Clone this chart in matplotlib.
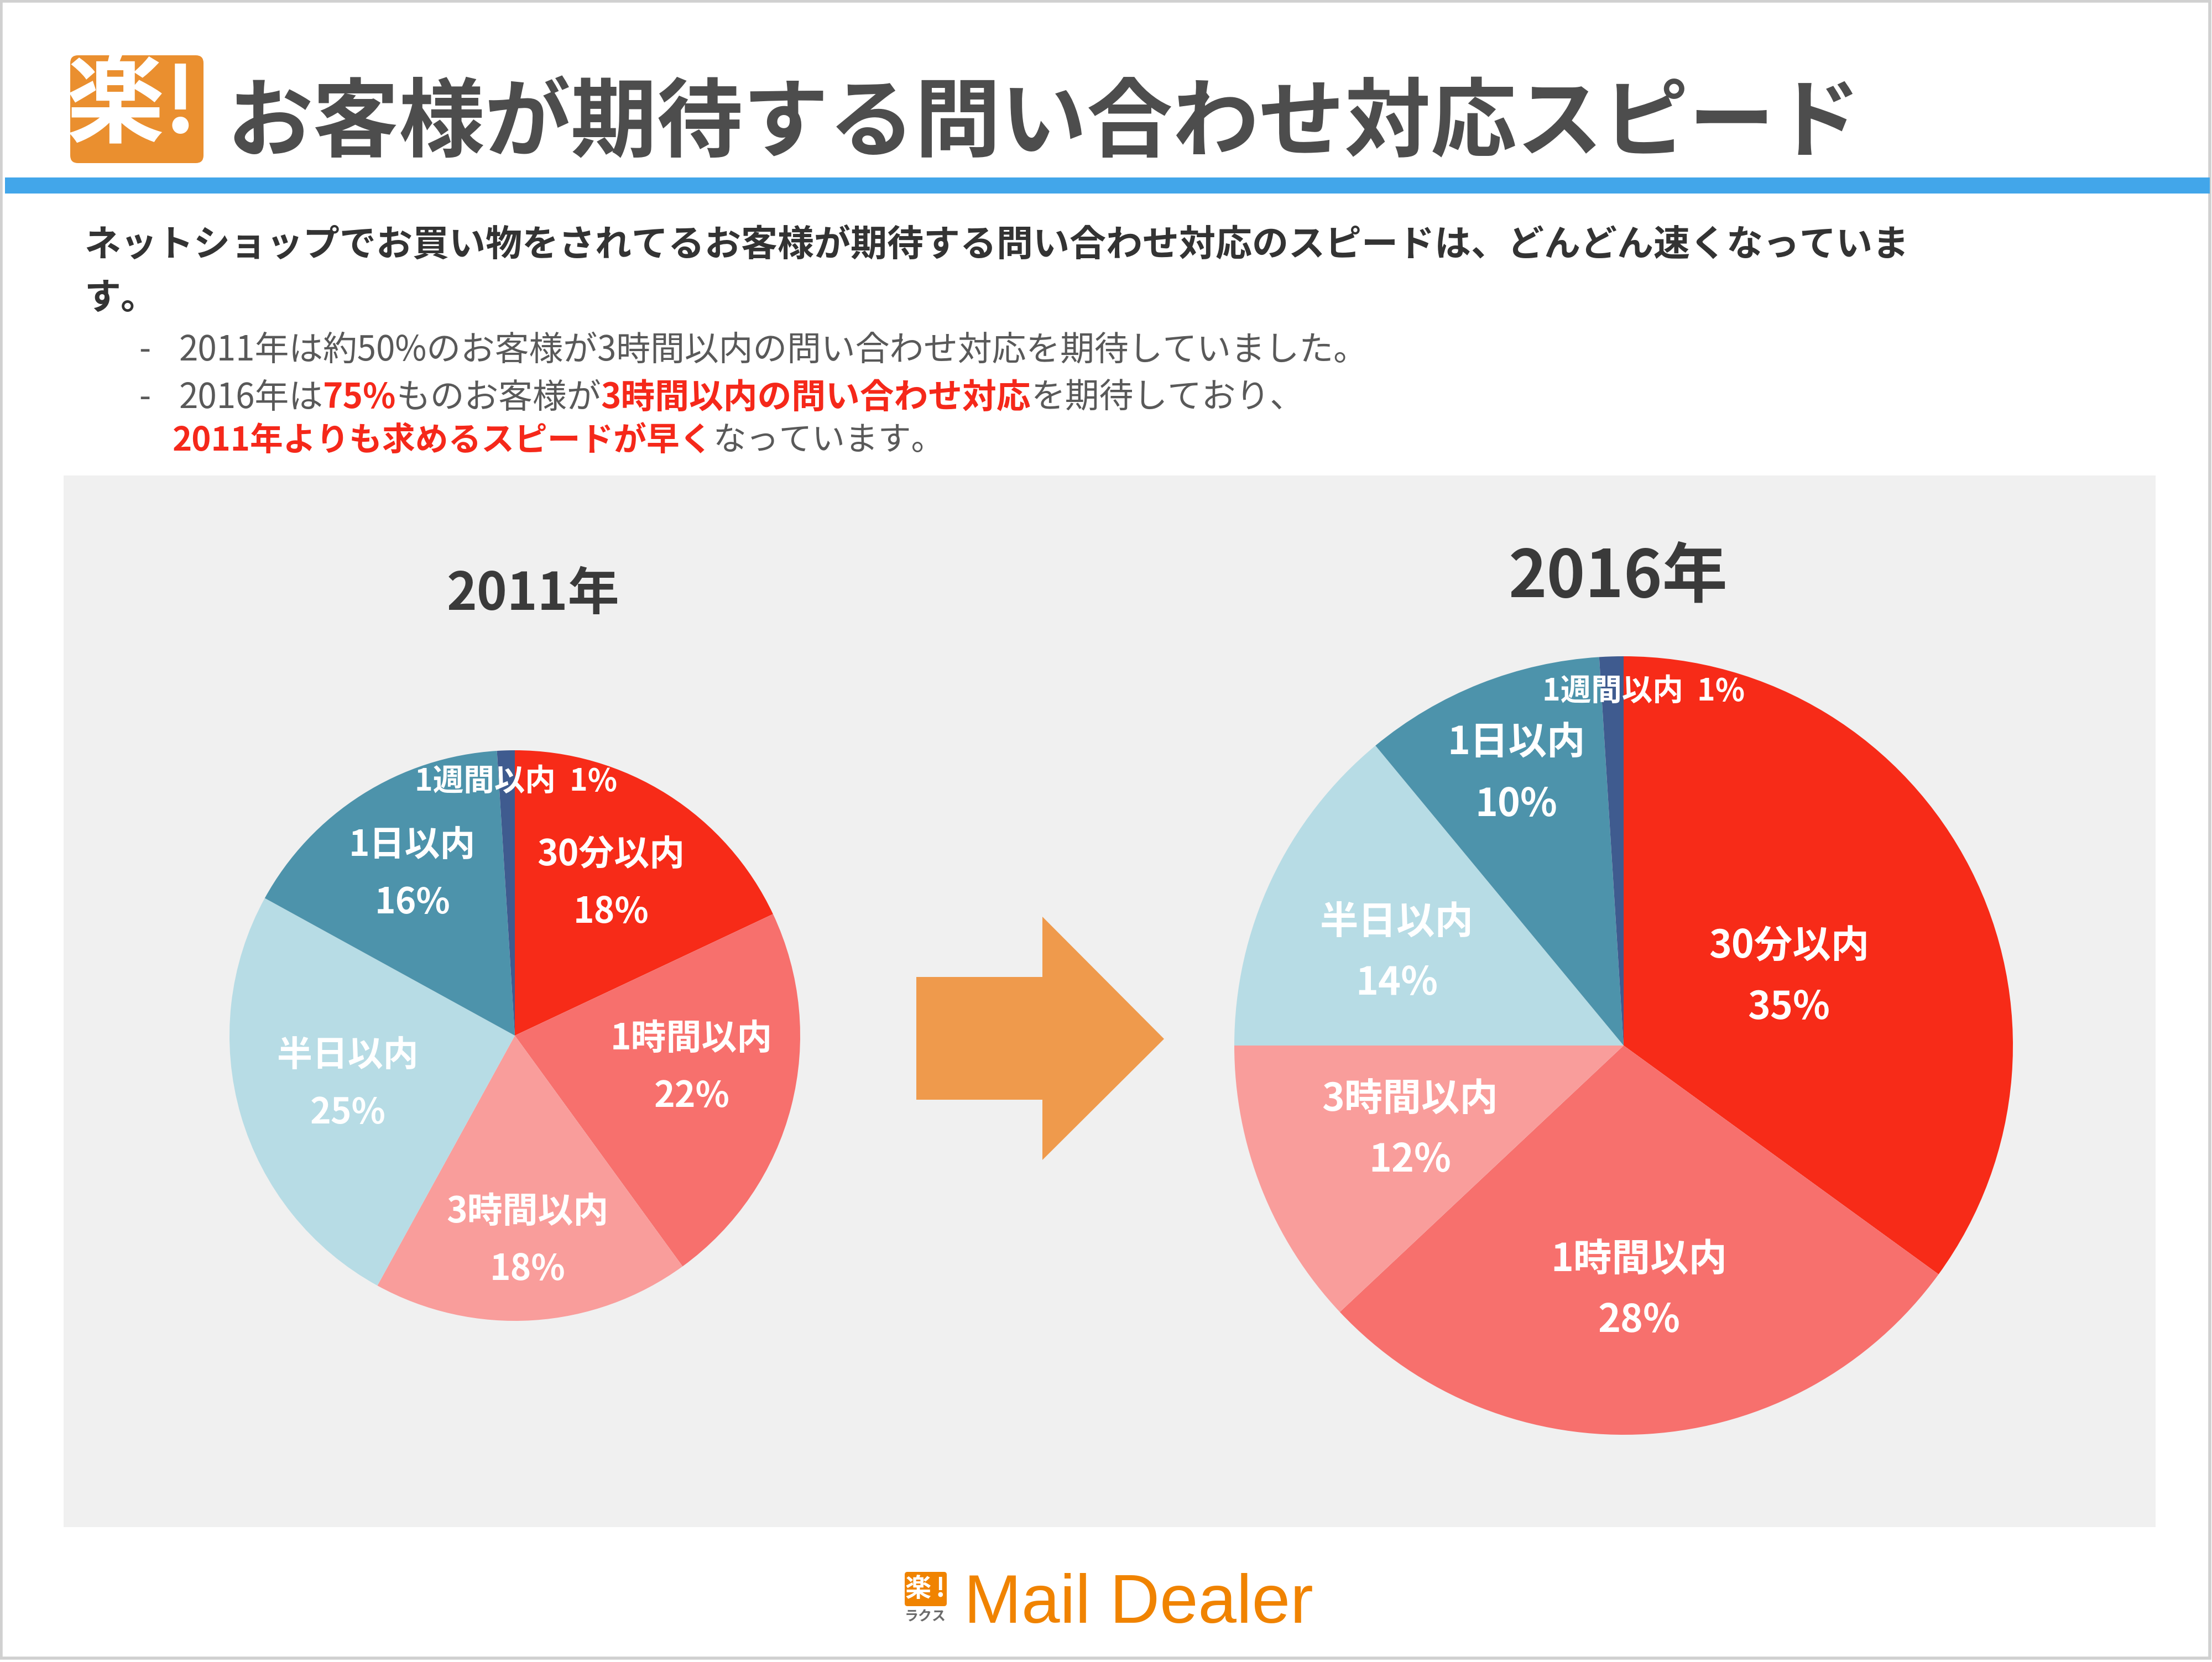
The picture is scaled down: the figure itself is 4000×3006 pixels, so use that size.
import numpy as np
import matplotlib
matplotlib.use("Agg")
import matplotlib.pyplot as plt
from matplotlib.patches import Rectangle, Polygon, FancyBboxPatch
from matplotlib.offsetbox import TextArea, HPacker, AnnotationBbox

plt.rcParams['font.family'] = ['Noto Sans CJK JP', 'DejaVu Sans']

# data
categories = ["30分以内", "1時間以内", "3時間以内", "半日以内", "1日以内", "1週間以内"]
share_2011 = [18, 22, 18, 25, 16, 1]
share_2016 = [35, 28, 12, 14, 10, 1]
years = ["2011年", "2016年"]

title = "お客様が期待する問い合わせ対応スピード"
lead_1 = "ネットショップでお買い物をされてるお客様が期待する問い合わせ対応のスピードは、どんどん速くなっていま"
lead_2 = "す。"
bullet_1 = [("2011年は約50%のお客様が3時間以内の問い合わせ対応を期待していました。", False)]
bullet_2 = [("2016年は", False), ("75%", True), ("ものお客様が", False),
            ("3時間以内の問い合わせ対応", True), ("を期待しており、", False)]
bullet_3 = [("2011年よりも求めるスピードが早く", True), ("なっています。", False)]

# styles
slice_colors = ["#f72b18", "#f7706d", "#f99d9b", "#b7dce5", "#4d93ab", "#3f5b8f"]
RED = "#f5281a"
GREY_TXT = "#595959"
W, H = 4000, 3006

fig = plt.figure(figsize=(40, 30.06), dpi=100)
fig.patch.set_facecolor("white")
bg = fig.add_axes([0, 0, 1, 1])
bg.set_xlim(0, W)
bg.set_ylim(H, 0)
bg.axis("off")

# frame + header
bg.add_patch(Rectangle((2, 2), W - 6, H - 9, fill=False, ec="#d0d0d0", lw=4))
bg.add_patch(Rectangle((9, 321), 3987, 29, color="#42a6ea", lw=0))
bg.add_patch(FancyBboxPatch((127, 100), 241, 195, boxstyle="round,pad=0,rounding_size=14",
                            fc="#ea8f2f", ec="none"))
bg.text(208, 192, "楽", color="white", fontsize=128, fontweight="bold", ha="center", va="center")
bg.text(326, 192, "!", color="white", fontsize=118, fontweight="bold", ha="center", va="center")
bg.text(410, 226, title, color="#4d4d4d", fontsize=112, fontweight="bold", ha="left", va="center")

bg.text(152, 443, lead_1, color="#333333", fontsize=47.5, fontweight="bold", ha="left", va="center")
bg.text(152, 540, lead_2, color="#333333", fontsize=47.5, fontweight="bold", ha="left", va="center")


def rich_line(x, y, parts, size=44):
    boxes = []
    for s, hi in parts:
        boxes.append(TextArea(s, textprops=dict(color=RED if hi else GREY_TXT, fontsize=size,
                                                fontweight="bold" if hi else "normal")))
    pack = HPacker(children=boxes, align="baseline", pad=0, sep=0)
    bg.add_artist(AnnotationBbox(pack, (x, y), xycoords="data", box_alignment=(0, 0.5),
                                 frameon=False, pad=0))


bg.text(262, 634, "-", color=GREY_TXT, fontsize=44, ha="center", va="center")
rich_line(323, 634, bullet_1, 44.5)
bg.text(262, 720, "-", color=GREY_TXT, fontsize=44, ha="center", va="center")
rich_line(323, 720, bullet_2, 44.5)
rich_line(312, 798, bullet_3, 43)

# grey panel
bg.add_patch(Rectangle((115, 860), 3783, 1902, color="#f0f0f0", lw=0))

# arrow
bg.add_patch(Polygon([(1657, 1767), (1885, 1767), (1885, 1658), (2105, 1879),
                      (1885, 2098), (1885, 1989), (1657, 1989)], closed=True,
                     fc="#ef9a4c", ec="none"))

bg.text(964, 1075, years[0], color="#3a3a3a", fontsize=67, fontweight="bold", ha="center", va="center")
bg.text(2926, 1045, years[1], color="#3a3a3a", fontsize=85, fontweight="bold", ha="center", va="center")

# footer logo
bg.add_patch(FancyBboxPatch((1636, 2843), 76, 62, boxstyle="round,pad=0,rounding_size=5",
                            fc="#f08300", ec="none"))
bg.text(1660, 2874, "楽", color="white", fontsize=34, fontweight="bold", ha="center", va="center")
bg.text(1700, 2874, "!", color="white", fontsize=34, fontweight="bold", ha="center", va="center")
bg.text(1673, 2924, "ラクス", color="#6b6b6b", fontsize=18, fontweight="bold", ha="center", va="center")
bg.text(1743, 2935, "Mail Dealer", color="#f08300", fontsize=90, family="Liberation Sans",
        ha="left", va="baseline")


def draw_pie(cx, cy, r, values, lab_r, lab_da, size, small_size, linesp):
    ax = fig.add_axes([(cx - r) / W, (H - cy - r) / H, 2 * r / W, 2 * r / H])
    wedges, _ = ax.pie(values, colors=slice_colors, startangle=90, counterclock=False,
                       radius=1, wedgeprops=dict(linewidth=0))
    ax.set_xlim(-1, 1)
    ax.set_ylim(-1, 1)
    ax.axis("off")
    for i, w in enumerate(wedges):
        ang = np.deg2rad((w.theta1 + w.theta2) / 2 + lab_da[i])
        x, y = lab_r[i] * np.cos(ang), lab_r[i] * np.sin(ang)
        if i == len(wedges) - 1:
            ax.text(x, y, f"{categories[i]}  {values[i]}%", color="white", fontsize=small_size,
                    fontweight="bold", ha="center", va="center")
        else:
            ax.text(x, y, f"{categories[i]}\n{values[i]}%", color="white", fontsize=size,
                    fontweight="bold", ha="center", va="center", linespacing=linesp)


draw_pie(931, 1873, 516, share_2011,
         [0.63, 0.63, 0.72, 0.61, 0.67, 0.89], [0, 4, 0, 0, 0, -2], 46, 40, 1.75)
draw_pie(2936, 1891, 704, share_2016,
         [0.46, 0.63, 0.59, 0.63, 0.75, 0.91], [-4.5, 0, 0, 3, 0, -5], 50, 40, 1.72)

fig.savefig("out.png", dpi=100, facecolor="white")
